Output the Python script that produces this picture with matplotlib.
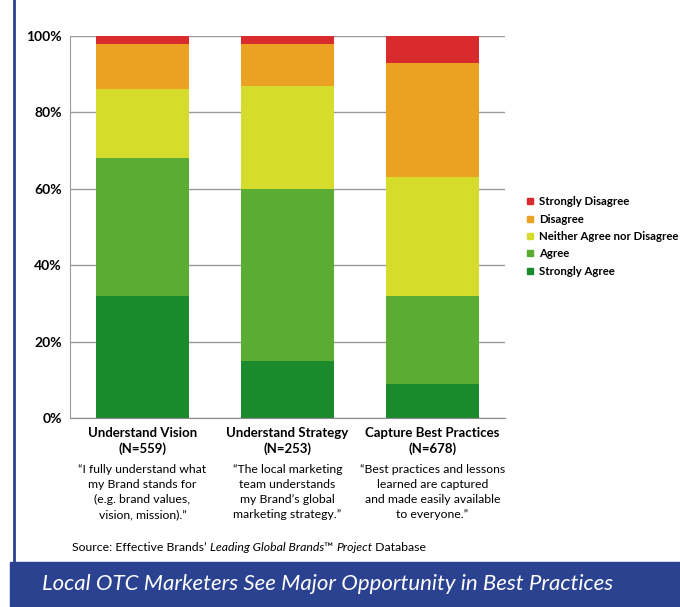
import matplotlib
matplotlib.use("Agg")
import matplotlib.pyplot as plt
from matplotlib.patches import Rectangle
from matplotlib.lines import Line2D

plt.rcParams["font.family"] = ["Lato", "DejaVu Sans"]

# --- data -------------------------------------------------------------
categories = ["Understand Vision", "Understand Strategy", "Capture Best Practices"]
sample_sizes = [559, 253, 678]
responses = ["Strongly Agree", "Agree", "Neither Agree nor Disagree", "Disagree", "Strongly Disagree"]
strongly_agree = [32, 15, 9]
agree = [36, 45, 23]
neither = [18, 27, 31]
disagree = [12, 11, 30]
strongly_disagree = [2, 2, 7]
quotes = [
    "\u201cI fully understand what\nmy Brand stands for\n(e.g. brand values,\nvision, mission).\u201d",
    "\u201cThe local marketing\nteam understands\nmy Brand\u2019s global\nmarketing strategy.\u201d",
    "\u201cBest practices and lessons\nlearned are captured\nand made easily available\nto everyone.\u201d",
]
y_ticks = [0, 20, 40, 60, 80, 100]

colors = ["#1b8a2c", "#5aac32", "#d6dc2c", "#eba122", "#d92a2e"]
banner_blue = "#2a4290"

# --- figure -----------------------------------------------------------
fig = plt.figure(figsize=(6.8, 6.07), dpi=100)
W, H = 680, 607

def fx(px):
    return px / W

def fy(py):
    return 1 - py / H

ax = fig.add_axes([fx(70), fy(418), fx(505) - fx(70), fy(36) - fy(418)])

series = [strongly_agree, agree, neither, disagree, strongly_disagree]
x = range(len(categories))
bottom = [0] * len(categories)
for vals, col, name in zip(series, colors, responses):
    ax.bar(x, vals, bottom=bottom, width=0.64, color=col, label=name, zorder=3)
    bottom = [b + v for b, v in zip(bottom, vals)]

ax.set_xlim(-0.5, 2.5)
ax.set_ylim(0, 100)
ax.set_yticks(y_ticks)
ax.set_yticklabels([f"{t}%" for t in y_ticks], fontsize=10, fontweight="bold")
ax.tick_params(axis="y", length=0, pad=6)
ax.set_xticks([])
ax.grid(axis="y", color="#9a9a9a", linewidth=1, zorder=0)
for side in ["top", "right"]:
    ax.spines[side].set_visible(False)
ax.spines["left"].set_color("#9a9a9a")
ax.spines["bottom"].set_color("#8a8a8a")
ax.spines["bottom"].set_zorder(4)

# category labels, sample sizes and survey statements
for i, (cat, n, q) in enumerate(zip(categories, sample_sizes, quotes)):
    xc = ax.transData.transform((i, 0))[0] / fig.dpi / 6.8
    fig.text(xc, fy(433), cat, ha="center", va="center", fontsize=9.5, fontweight="bold")
    fig.text(xc, fy(449), f"(N={n})", ha="center", va="center", fontsize=9.5, fontweight="bold")
    fig.text(xc, fy(464), q, ha="center", va="top", fontsize=8.8, linespacing=1.45)

# source line with italic segments
parts = [
    ("Source: Effective Brands\u2019 ", "normal"),
    ("Leading Global Brands", "italic"),
    ("\u2122 ", "normal"),
    ("Project", "italic"),
    (" Database", "normal"),
]
prev = fig.text(fx(72), fy(553), parts[0][0], fontsize=8.8, va="bottom", ha="left")
for txt, st in parts[1:]:
    prev = fig.add_artist(plt.Annotation(txt, xy=(1, 0), xycoords=prev, va="bottom",
                                         ha="left", fontsize=8.8, style=st))

# legend, top entry first
handles = [Line2D([], [], marker="s", linestyle="", color=c, markersize=5) for c in colors[::-1]]
fig.legend(handles, responses[::-1], loc="center left", bbox_to_anchor=(fx(516), fy(236.5)),
           frameon=False, handlelength=0.7, handletextpad=0.4,
           labelspacing=0.55, prop={"weight": "bold", "size": 8.2})

# page frame and bottom banner
fig.add_artist(Line2D([fx(14), fx(14)], [fy(562), 1], color=banner_blue, linewidth=2))
fig.add_artist(Rectangle((fx(10), 0), 1, fy(562), color=banner_blue, transform=fig.transFigure))
fig.text(fx(42), fy(584), "Local OTC Marketers See Major Opportunity in Best Practices",
         color="white", fontsize=16, style="italic", va="center", ha="left")

fig.savefig("out.png", dpi=100)
